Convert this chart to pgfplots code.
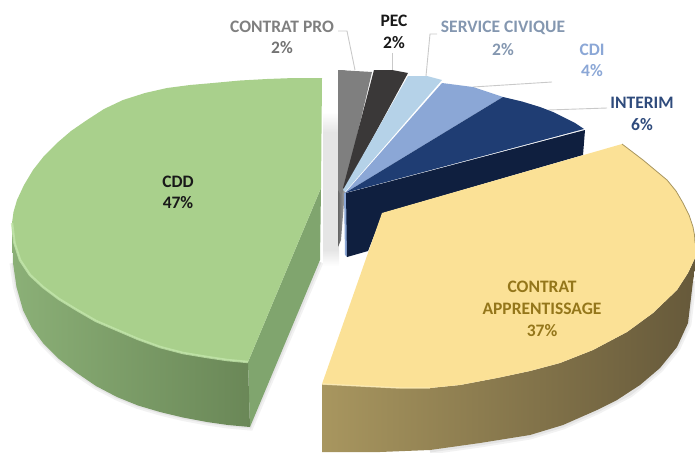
\documentclass[border=0pt]{standalone}
\usepackage{pgfplots}
\pgfplotsset{compat=1.18}
\usepackage{fontspec}
\setmainfont{Carlito}
\definecolor{gTop}{HTML}{A9D08C}
\definecolor{gRim}{HTML}{C3E6AB}
\definecolor{gCut}{HTML}{80A56E}
\definecolor{gA}{HTML}{8BB077}
\definecolor{gB}{HTML}{7DA068}
\definecolor{gC}{HTML}{6A8757}
\definecolor{yTop}{HTML}{FBE196}
\definecolor{yRim}{HTML}{FDEDB8}
\definecolor{yA}{HTML}{A8965F}
\definecolor{yB}{HTML}{66593A}
\definecolor{yC}{HTML}{66593A}
\definecolor{nTop}{HTML}{1F3D73}
\definecolor{nSide}{HTML}{0F1F3F}
\definecolor{cdiC}{HTML}{8BA7D6}
\definecolor{svcC}{HTML}{B5D2E8}
\definecolor{pecC}{HTML}{3A3838}
\definecolor{proC}{HTML}{7F7F7F}
\definecolor{leader}{HTML}{C9C9C9}
\definecolor{tSvc}{HTML}{8497B0}
\definecolor{tInt}{HTML}{2F4B7C}
\definecolor{tApp}{HTML}{94761A}
\begin{document}
\begin{tikzpicture}
\path[use as bounding box] (0,0) rectangle (695pt,452pt);
\begin{axis}[at={(0,0)},anchor=south west,width=695pt,height=452pt,scale only axis,
  xmin=0,xmax=695,ymin=0,ymax=452,y dir=reverse,hide axis,clip=true]
% soft shadows
\addplot[draw=black,draw opacity=0.05,line width=7pt,fill=none] coordinates {(13,263)(16.5,287)(23,310)(32,328)(43,343)(59,359)(77,373)(96,386)(117,397)(138,405.5)(160,412)(183,417.5)(207,422)(228,425)(250,427)(320,262)};
\addplot[draw=black,draw opacity=0.06,line width=3pt,fill=none] coordinates {(13,263)(16.5,287)(23,310)(32,328)(43,343)(59,359)(77,373)(96,386)(117,397)(138,405.5)(160,412)(183,417.5)(207,422)(228,425)(250,427)(320,262)};
\addplot[draw=black,draw opacity=0.05,line width=7pt,fill=none] coordinates {(430,451)(480,444)(530,436)(563,426)(597,411)(630,394)(640,386)(660,369)(677,348)(688,324)(693,281)};
\addplot[draw=black,draw opacity=0.06,line width=3pt,fill=none] coordinates {(430,451)(480,444)(530,436)(563,426)(597,411)(630,394)(640,386)(660,369)(677,348)(688,324)(693,281)};
\addplot[draw=none,top color=white,bottom color=black!10] coordinates {(323,112)(339,112)(339,132)(323,132)} -- cycle;
\addplot[draw=none,fill=black!10] coordinates {(323,132)(339,132)(339,250)(323,250)} -- cycle;
\addplot[draw=none,top color=black!10,bottom color=white] coordinates {(323,250)(339,250)(339,266)(323,266)} -- cycle;
% leaders
\addplot[leader,line width=0.9pt] coordinates {(338,31)(347,31)(355,70)};
\addplot[leader,line width=0.9pt] coordinates {(392,53)(392,70)};
\addplot[leader,line width=0.9pt] coordinates {(437,34)(430,34)(426,76)};
\addplot[leader,line width=0.9pt] coordinates {(552,82)(473,87)};
\addplot[leader,line width=0.9pt] coordinates {(607,108)(548,110)};
% CONTRAT PRO
\addplot[draw=none,left color=black!60,right color=black!35] coordinates {(338,70)(345,70)(345,190)(341,240)(338,247)} -- cycle;
\addplot[draw=none,fill=proC] coordinates {(338,70)(372,72)(345,187)(341,195)(338,190)} -- cycle;
% PEC
\addplot[draw=none,fill=pecC] coordinates {(374,70)(392,70)(408,73)(345,189)(343,188)} -- cycle;
% SERVICE CIVIQUE
\addplot[draw=none,fill=svcC] coordinates {(408,76)(427,76)(442,80)(345,192)(343,190)} -- cycle;
% CDI
\addplot[draw=none,fill=cdiC] coordinates {(442,83)(473,87)(503,97)(345,193)} -- cycle;
\addplot[draw=none,fill=cdiC] coordinates {(344,193)(347,193)(347,257)(345,255)} -- cycle;
% INTERIM
\addplot[draw=none,fill=nSide] coordinates {(346,193)(585,130)(583,155)(383,213)(368,251)(347,257)} -- cycle;
\addplot[draw=none,fill=nTop] coordinates {(345,193)(503,97)(522,101.5)(540,107)(553,112)(565,118)(575,123)(584,129)} -- cycle;
% CDD
\addplot[draw=none,fill=gCut] coordinates {(321,188)(320,260)(250,427)(248,362)} -- cycle;
\addplot[draw=none,left color=gA,middle color=gB,right color=gC] coordinates {(12,223)(14.5,243)(20,260)(30,275)(43,287)(59,299)(77,310)(96,321)(117,330)(138,339)(160,347)(183,353)(207,357)(227,360)(248,362)(250,427)(228,425)(207,422)(183,417.5)(160,412)(138,405.5)(117,397)(96,386)(77,373)(59,359)(43,343)(32,328)(23,310)(16.5,287)(13,263)} -- cycle;
\addplot[draw=none,fill=gTop] coordinates {(322,78)(294,78)(267,79)(240,80.5)(213,83)(190,85)(167,88)(145,93)(123,100)(104,109)(87,120)(71,131)(57,143)(44,156)(33,170)(24,185)(17,200)(13.5,212)(12,223)(14.5,243)(20,260)(30,275)(43,287)(59,299)(77,310)(96,321)(117,330)(138,339)(160,347)(183,353)(207,357)(227,360)(248,362)(321,188)} -- cycle;
\addplot[gRim,line width=2.4pt,draw opacity=0.8] coordinates {(12,223)(14.5,243)(20,260)(30,275)(43,287)(59,299)(77,310)(96,321)(117,330)(138,339)(160,347)(183,353)(207,357)(227,360)(248,362)};
% APPRENTISSAGE
\addplot[draw=none,left color=yA,middle color=yB,right color=yC] coordinates {(322,384)(360,386)(400,388)(430,388)(460,385)(497,378)(530,371)(560,363)(593,350)(627,332)(653,313)(677,290)(688,273)(695,258)(695,270)(693,281)(688,323)(677,347)(660,368)(640,385)(617,400)(597,410)(563,425)(530,435)(480,443)(430,450)(380,452)(322,452)} -- cycle;
\addplot[draw=none,fill=yTop] coordinates {(382,213)(622,144)(643,160)(655,170)(667,180)(676,191)(683,203)(689,215)(693,227)(694.5,235)(695,243)(695,258)(688,273)(677,290)(653,313)(627,332)(593,350)(560,363)(530,371)(497,378)(460,385)(430,388)(400,388)(360,386)(322,384)} -- cycle;
\addplot[yRim,line width=1.4pt,draw opacity=0.8] coordinates {(322,384)(360,386)(400,388)(430,388)};
\addplot[color=yA,line width=0.8pt] coordinates {(622,144)(643,160)(655,170)(667,180)(676,191)(683,203)(689,215)(693,227)(694.5,235)(695,243)};
% labels
\tikzset{lab/.style={font=\fontsize{17.5}{18}\selectfont\bfseries,inner sep=0pt,anchor=center}}
\node[lab,text=proC] at (axis cs:282,27) {CONTRAT PRO};
\node[lab,text=black!55] at (axis cs:282,48) {2\%};
\node[lab,text=black!90] at (axis cs:394,21) {PEC};
\node[lab,text=black!90] at (axis cs:394,43) {2\%};
\node[lab,text=tSvc] at (axis cs:503,28) {SERVICE CIVIQUE};
\node[lab,text=tSvc] at (axis cs:503,50) {2\%};
\node[lab,text=cdiC] at (axis cs:592,50) {CDI};
\node[lab,text=cdiC] at (axis cs:592,71) {4\%};
\node[lab,text=tInt] at (axis cs:642,103) {INTERIM};
\node[lab,text=tInt] at (axis cs:642,125) {6\%};
\node[lab,text=black!90] at (axis cs:178,182) {CDD};
\node[lab,text=black!90] at (axis cs:178,203) {47\%};
\node[lab,text=tApp] at (axis cs:542,287) {CONTRAT};
\node[lab,text=tApp] at (axis cs:542,309) {APPRENTISSAGE};
\node[lab,text=tApp] at (axis cs:542,331) {37\%};
\end{axis}
\end{tikzpicture}
\end{document}
